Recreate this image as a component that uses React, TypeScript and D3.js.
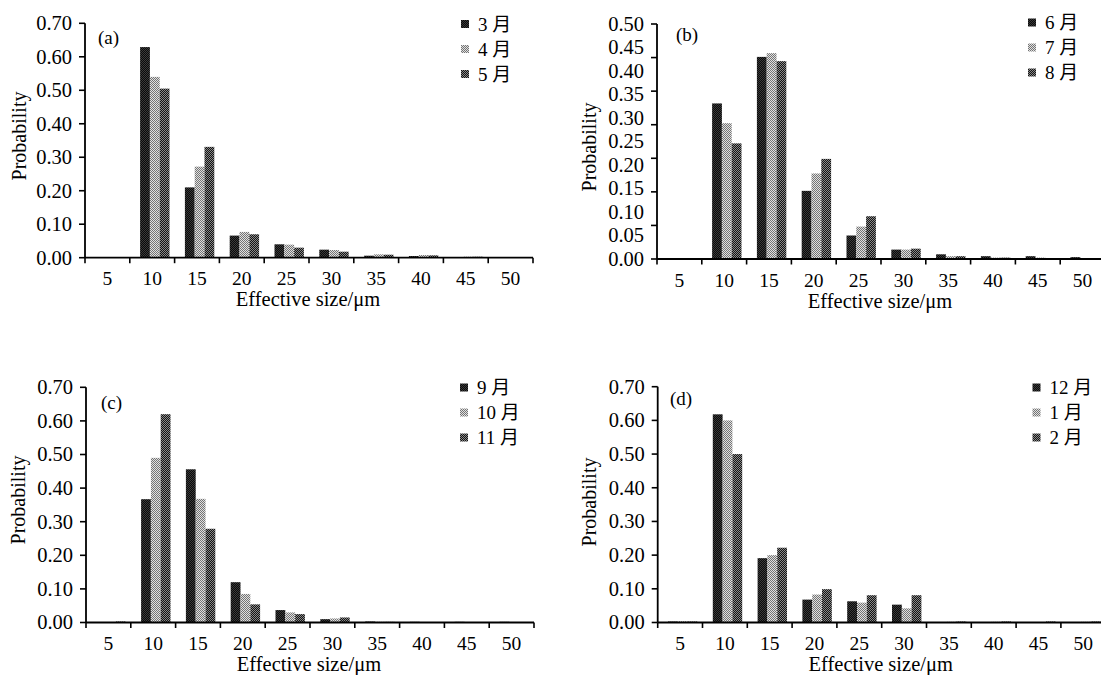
import { useEffect, useRef } from 'react'
import * as d3 from 'd3'

const sizes = ['5', '10', '15', '20', '25', '30', '35', '40', '45', '50']

// (a) Mar-May
const mar = [0.002, 0.629, 0.21, 0.066, 0.04, 0.024, 0.006, 0.005, 0.002, 0.001]
const apr = [0.001, 0.54, 0.272, 0.077, 0.039, 0.023, 0.01, 0.008, 0.003, 0.002]
const may = [0.001, 0.505, 0.331, 0.07, 0.03, 0.018, 0.009, 0.007, 0.003, 0.002]
// (b) Jun-Aug
const jun = [0.002, 0.331, 0.43, 0.145, 0.05, 0.02, 0.01, 0.006, 0.006, 0.004]
const jul = [0.002, 0.289, 0.438, 0.182, 0.069, 0.02, 0.006, 0.003, 0.003, 0.002]
const aug = [0.002, 0.246, 0.421, 0.213, 0.091, 0.022, 0.006, 0.003, 0.002, 0.002]
// (c) Sep-Nov
const sep = [0.001, 0.367, 0.456, 0.12, 0.037, 0.01, 0.003, 0.002, 0.002, 0.002]
const oct = [0.001, 0.49, 0.368, 0.085, 0.03, 0.012, 0.002, 0.001, 0.001, 0.001]
const nov = [0.003, 0.62, 0.279, 0.054, 0.025, 0.015, 0.002, 0.001, 0.001, 0.001]
// (d) Dec-Feb
const dec = [0.003, 0.618, 0.191, 0.068, 0.063, 0.053, 0.001, 0.001, 0.001, 0.001]
const jan = [0.004, 0.6, 0.2, 0.083, 0.059, 0.042, 0.002, 0.002, 0.001, 0.002]
const feb = [0.003, 0.5, 0.222, 0.099, 0.081, 0.081, 0.003, 0.003, 0.003, 0.003]

const ticks70 = [0, 0.1, 0.2, 0.3, 0.4, 0.5, 0.6, 0.7]
const ticks50 = [0, 0.05, 0.1, 0.15, 0.2, 0.25, 0.3, 0.35, 0.4, 0.45, 0.5]

const FONT = '"Liberation Serif", "Times New Roman", "Noto Sans CJK SC", serif'
const patterns = ['p-dark', 'p-light', 'p-mid']

const panels = [
  { tag: '(a)', names: ['3 月', '4 月', '5 月'], series: [mar, apr, may], ticks: ticks70, max: 0.7, marks: 7,
    x0: 85, top: 23.3, bottom: 257.7, tagX: 98, tagY: 44, legX: 465, legY: 24, probX: 20, probY: 136 },
  { tag: '(b)', names: ['6 月', '7 月', '8 月'], series: [jun, jul, aug], ticks: ticks50, max: 0.5, marks: 7,
    x0: 657, top: 24, bottom: 259, tagX: 676, tagY: 41, legX: 1032, legY: 22.5, probX: 590, probY: 147 },
  { tag: '(c)', names: ['9 月', '10 月', '11 月'], series: [sep, oct, nov], ticks: ticks70, max: 0.7, marks: 7,
    x0: 86, top: 387.3, bottom: 622.5, tagX: 101, tagY: 409, legX: 464, legY: 387.5, probX: 19, probY: 500 },
  { tag: '(d)', names: ['12 月', '1 月', '2 月'], series: [dec, jan, feb], ticks: ticks70, max: 0.7, marks: 7,
    x0: 657.7, top: 386.7, bottom: 622.5, tagX: 670, tagY: 405, legX: 1036.5, legY: 387.5, probX: 590, probY: 502 },
]

export default function App() {
  const ref = useRef<SVGSVGElement>(null)

  useEffect(() => {
    const svg = d3.select(ref.current)
    svg.selectAll('*').remove()

    // dithered fills, like the scanned original
    const defs = svg.append('defs')
    const pat = (id: string, a: string, b: string) => {
      const p = defs.append('pattern').attr('id', id).attr('patternUnits', 'userSpaceOnUse')
        .attr('width', 2).attr('height', 2)
      p.append('rect').attr('width', 2).attr('height', 2).attr('fill', a)
      p.append('rect').attr('width', 1).attr('height', 1).attr('fill', b)
      p.append('rect').attr('x', 1).attr('y', 1).attr('width', 1).attr('height', 1).attr('fill', b)
    }
    pat('p-dark', '#0a0a0a', '#3a3a3a')
    pat('p-light', '#e0e0e0', '#747474')
    pat('p-mid', '#141414', '#888')

    panels.forEach(p => {
      const g = svg.append('g').style('font-family', FONT).attr('fill', '#000')
      const bandW = 44.8
      const x = d3.scaleBand().domain(sizes).range([p.x0, p.x0 + bandW * sizes.length]).padding(0)
      const inner = d3.scaleBand().domain(['0', '1', '2']).range([10.3, 39.7]).padding(0)
      const y = d3.scaleLinear().domain([0, p.max]).range([p.bottom, p.top])

      // bars
      p.series.forEach((vals, si) => {
        g.selectAll(null)
          .data(vals)
          .join('rect')
          .attr('x', (_, i) => (x(sizes[i]) as number) + (inner(String(si)) as number))
          .attr('width', inner.bandwidth())
          .attr('y', d => y(d))
          .attr('height', d => p.bottom - y(d))
          .attr('fill', `url(#${patterns[si]})`)
      })

      // y axis
      g.append('line').attr('x1', p.x0).attr('x2', p.x0).attr('y1', p.top).attr('y2', p.bottom)
        .attr('stroke', '#000').attr('stroke-width', 1.8)
      const markVals = d3.range(p.marks + 1).map(i => (p.max * i) / p.marks)
      g.selectAll(null).data(markVals).join('line')
        .attr('x1', p.x0 - 6).attr('x2', p.x0)
        .attr('y1', d => y(d)).attr('y2', d => y(d))
        .attr('stroke', '#000').attr('stroke-width', 1.6)
      g.selectAll(null).data(p.ticks).join('text')
        .attr('x', p.x0 - 13).attr('y', d => y(d) + 6.8)
        .attr('text-anchor', 'end').style('font-size', '20.5px')
        .text(d => d.toFixed(2))

      // x axis
      const xEnd = p.x0 + bandW * sizes.length
      g.append('line').attr('x1', p.x0).attr('x2', xEnd).attr('y1', p.bottom).attr('y2', p.bottom)
        .attr('stroke', '#000').attr('stroke-width', 1.8)
      const edges = sizes.map(s => x(s) as number).concat([xEnd])
      g.selectAll(null).data(edges).join('line')
        .attr('x1', d => d).attr('x2', d => d)
        .attr('y1', p.bottom).attr('y2', p.bottom + 5.5)
        .attr('stroke', '#000').attr('stroke-width', 1.6)
      g.selectAll(null).data(sizes).join('text')
        .attr('x', d => (x(d) as number) + x.bandwidth() / 2)
        .attr('y', p.bottom + 27.5)
        .attr('text-anchor', 'middle').style('font-size', '19.5px')
        .text(d => d)

      // titles
      g.append('text').attr('x', p.x0 + 223).attr('y', p.bottom + 48.5)
        .attr('text-anchor', 'middle').style('font-size', '20.5px').text('Effective size/μm')
      g.append('text')
        .attr('transform', `translate(${p.probX + 6},${p.probY}) rotate(-90)`)
        .attr('text-anchor', 'middle').style('font-size', '20px').text('Probability')
      g.append('text').attr('x', p.tagX).attr('y', p.tagY).style('font-size', '19px').text(p.tag)

      // legend
      p.names.forEach((n, i) => {
        const cy = p.legY + i * 25
        g.append('rect').attr('x', p.legX - 4).attr('y', cy - 4).attr('width', 8).attr('height', 8)
          .attr('fill', `url(#${patterns[i]})`)
        g.append('text').attr('x', p.legX + 13).attr('y', cy + 6.5).style('font-size', '19px').text(n)
      })
    })
  }, [])

  return (
    <svg
      ref={ref}
      width={1101}
      height={675}
      style={{ position: 'absolute', left: 0, top: 0, background: '#fff' }}
    />
  )
}
